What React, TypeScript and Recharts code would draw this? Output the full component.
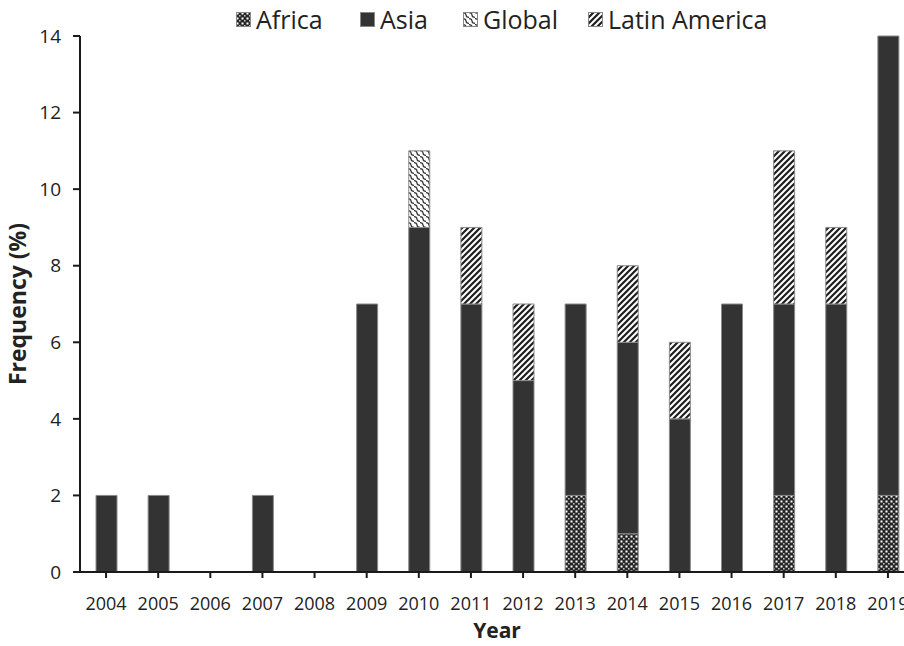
import React from 'react';
import { BarChart, Bar, XAxis, YAxis } from 'recharts';

const years = ['2004', '2005', '2006', '2007', '2008', '2009', '2010', '2011', '2012', '2013', '2014', '2015', '2016', '2017', '2018', '2019'];
const africa = [0, 0, 0, 0, 0, 0, 0, 0, 0, 2, 1, 0, 0, 2, 0, 2];
const asia = [2, 2, 0, 2, 0, 7, 9, 7, 5, 5, 5, 4, 7, 5, 7, 12];
const global = [0, 0, 0, 0, 0, 0, 2, 0, 0, 0, 0, 0, 0, 0, 0, 0];
const latinAmerica = [0, 0, 0, 0, 0, 0, 0, 2, 2, 0, 2, 2, 0, 4, 2, 0];
const yTicks = [0, 2, 4, 6, 8, 10, 12, 14];

const data = years.map((year, i) => ({
  year,
  Africa: africa[i],
  Asia: asia[i],
  Global: global[i],
  'Latin America': latinAmerica[i],
}));

const FONT = '"Open Sans", sans-serif';

const series = [
  { key: 'Africa', fill: 'url(#pat-africa)', left: 236 },
  { key: 'Asia', fill: '#333333', left: 360 },
  { key: 'Global', fill: 'url(#pat-global)', left: 463 },
  { key: 'Latin America', fill: 'url(#pat-latin)', left: 588 },
];

const Patterns = () => (
  <defs>
    <pattern id="pat-africa" patternUnits="userSpaceOnUse" width="5" height="5">
      <rect width="5" height="5" fill="#262626" />
      <rect x="0.5" y="0.5" width="2" height="2" fill="#ffffff" />
      <rect x="3" y="3" width="1.6" height="1.6" fill="#bdbdbd" />
    </pattern>
    <pattern id="pat-global" patternUnits="userSpaceOnUse" width="6" height="6">
      <rect width="6" height="6" fill="#ffffff" />
      <path d="M0,0.6 Q3,0.6 3,3 Q3,5.4 6,5.4" stroke="#333" strokeWidth="1.2" fill="none" />
    </pattern>
    <pattern id="pat-latin" patternUnits="userSpaceOnUse" width="6" height="6">
      <rect width="6" height="6" fill="#ffffff" />
      <path d="M0,6 L6,0 M-1.5,1.5 L1.5,-1.5 M4.5,7.5 L7.5,4.5" stroke="#1e1e1e" strokeWidth="2.2" />
    </pattern>
  </defs>
);

const LegendBox = () => (
  <div style={{ position: 'absolute', top: 0, left: 0, width: 904, height: 40, fontFamily: FONT, fontSize: 25, color: '#222' }}>
    {series.map((s) => (
      <div key={s.key} style={{ position: 'absolute', left: s.left, top: 3, display: 'flex', alignItems: 'center', lineHeight: '32px' }}>
        <svg width={15} height={15} style={{ marginRight: 5 }}>
          <rect x={0.5} y={0.5} width={14} height={14} fill={s.fill} stroke="#888" strokeWidth={1} />
        </svg>
        <span>{s.key}</span>
      </div>
    ))}
  </div>
);

export default function App() {
  return (
    <div style={{ position: 'absolute', left: 0, top: 0, width: 904, height: 646, overflow: 'hidden', background: '#fff' }}>
      <BarChart
        width={924}
        height={646}
        data={data}
        margin={{ top: 36, right: 10, bottom: 0, left: 0 }}
        barSize={21}
      >
        <Patterns />
        <XAxis
          dataKey="year"
          height={74}
          tickSize={6}
          tickMargin={19}
          axisLine={{ stroke: '#1a1a1a', strokeWidth: 2 }}
          tickLine={{ stroke: '#1a1a1a', strokeWidth: 2 }}
          tick={{ fill: '#222', fontSize: 18, fontFamily: FONT }}
          interval={0}
          label={{ value: 'Year', position: 'insideBottom', offset: 0, dy: -8, fill: '#222', fontSize: 21, fontWeight: 'bold', fontFamily: FONT }}
        />
        <YAxis
          width={80}
          domain={[0, 14]}
          ticks={yTicks}
          tickSize={7}
          tickMargin={12}
          axisLine={{ stroke: '#1a1a1a', strokeWidth: 2 }}
          tickLine={{ stroke: '#1a1a1a', strokeWidth: 2 }}
          tick={{ fill: '#222', fontSize: 19, fontFamily: FONT }}
          label={{ value: 'Frequency (%)', angle: -90, position: 'insideLeft', offset: 18, style: { textAnchor: 'middle' }, fill: '#222', fontSize: 23, fontWeight: 'bold', fontFamily: FONT }}
        />
        {series.map((s) => (
          <Bar key={s.key} dataKey={s.key} stackId="a" fill={s.fill} stroke="#8a8a8a" strokeWidth={1} isAnimationActive={false} />
        ))}
      </BarChart>
      <LegendBox />
    </div>
  );
}
